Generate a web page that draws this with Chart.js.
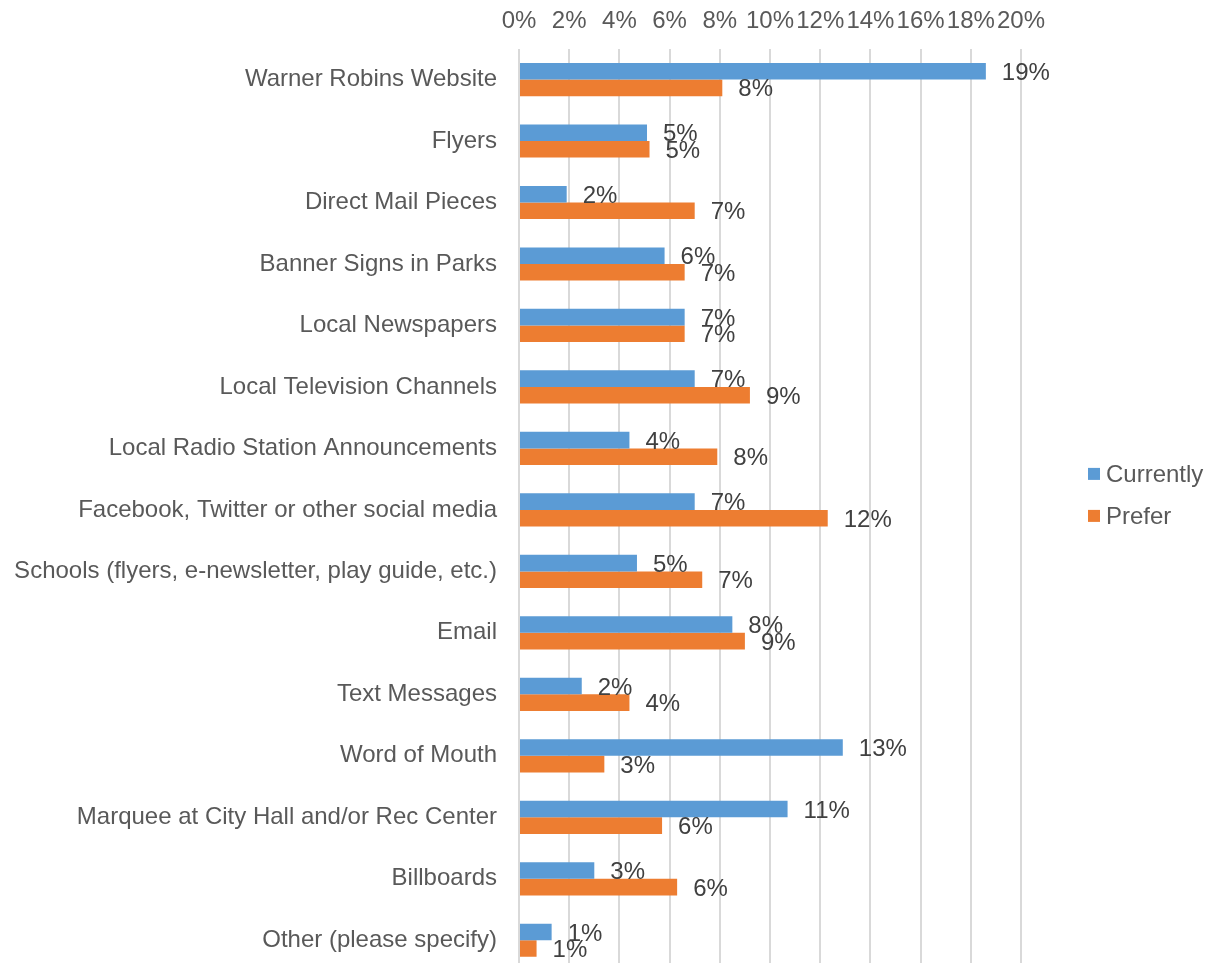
<!DOCTYPE html>
<html>
<head>
<meta charset="utf-8">
<script src="https://cdn.jsdelivr.net/npm/chart.js@4.4.1/dist/chart.umd.min.js"></script>
<style>
  html, body { margin: 0; padding: 0; background: #ffffff; overflow: hidden; }
  #wrap { position: relative; width: 1206px; height: 988px; margin-top: -13px; }
</style>
</head>
<body>
<div id="wrap"><canvas id="c" width="1206" height="988"></canvas></div>
<script>
const categories = [
  "Warner Robins Website",
  "Flyers",
  "Direct Mail Pieces",
  "Banner Signs in Parks",
  "Local Newspapers",
  "Local Television Channels",
  "Local Radio Station Announcements",
  "Facebook, Twitter or other social media",
  "Schools (flyers, e-newsletter, play guide, etc.)",
  "Email",
  "Text Messages",
  "Word of Mouth",
  "Marquee at City Hall and/or Rec Center",
  "Billboards",
  "Other (please specify)"
];
const currently = [18.6, 5.1, 1.9, 5.8, 6.6, 7.0, 4.4, 7.0, 4.7, 8.5, 2.5, 12.9, 10.7, 3.0, 1.3];
const prefer    = [8.1, 5.2, 7.0, 6.6, 6.6, 9.2, 7.9, 12.3, 7.3, 9.0, 4.4, 3.4, 5.7, 6.3, 0.7];
const currentlyLabels = ["19%","5%","2%","6%","7%","7%","4%","7%","5%","8%","2%","13%","11%","3%","1%"];
const preferLabels    = ["8%","5%","7%","7%","7%","9%","8%","12%","7%","9%","4%","3%","6%","6%","1%"];
const xTicks = [0, 2, 4, 6, 8, 10, 12, 14, 16, 18, 20];
const seriesNames = ["Currently", "Prefer"];
const seriesColors = ["#5B9BD5", "#ED7D31"];

const FONT = '"Liberation Sans", Arial, Helvetica, sans-serif';

const labelPlugin = {
  id: 'valueLabels',
  afterDatasetsDraw(chart) {
    const ctx = chart.ctx;
    const sets = [currentlyLabels, preferLabels];
    ctx.save();
    ctx.font = '24px ' + FONT;
    ctx.fillStyle = '#404040';
    ctx.textAlign = 'left';
    ctx.textBaseline = 'middle';
    chart.data.datasets.forEach((ds, di) => {
      const meta = chart.getDatasetMeta(di);
      meta.data.forEach((bar, i) => {
        ctx.fillText(sets[di][i], bar.x + 16, bar.y + 2);
      });
    });
    ctx.restore();
  }
};

const legendPlugin = {
  id: 'sideLegend',
  afterDraw(chart) {
    const ctx = chart.ctx;
    const area = chart.chartArea;
    const cy = (area.top + area.bottom) / 2 - 15;
    const gap = 42;
    ctx.save();
    ctx.font = '24px ' + FONT;
    ctx.textAlign = 'left';
    ctx.textBaseline = 'middle';
    chart.data.datasets.forEach((ds, i) => {
      const y = cy - gap / 2 + i * gap;
      const x = area.right + 67;
      ctx.fillStyle = ds.backgroundColor;
      ctx.fillRect(x, y - 6, 12, 12);
      ctx.fillStyle = '#595959';
      ctx.fillText(ds.label, x + 18, y + 1);
    });
    ctx.restore();
  }
};

new Chart(document.getElementById('c'), {
  type: 'bar',
  data: {
    labels: categories,
    datasets: [
      { label: seriesNames[0], data: currently, backgroundColor: seriesColors[0], borderWidth: 0,
        categoryPercentage: 0.54, barPercentage: 1.0 },
      { label: seriesNames[1], data: prefer, backgroundColor: seriesColors[1], borderWidth: 0,
        categoryPercentage: 0.54, barPercentage: 1.0 }
    ]
  },
  options: {
    indexAxis: 'y',
    responsive: false,
    animation: false,
    layout: { padding: { left: 12, top: 7, right: 185, bottom: 4 } },
    scales: {
      x: {
        position: 'top',
        min: 0, max: 20,
        afterBuildTicks(axis) { axis.ticks = xTicks.map(v => ({ value: v })); },
        ticks: {
          callback: v => v + '%',
          color: '#595959',
          font: { family: FONT, size: 24 },
          padding: 13,
          maxRotation: 0,
          minRotation: 0,
          autoSkip: false
        },
        grid: { color: '#d9d9d9', lineWidth: 2, drawTicks: false },
        border: { display: false }
      },
      y: {
        afterFit(axis) {
          axis.width = 507;
          axis.paddingTop = 0;
          axis.paddingBottom = 0;
        },
        ticks: {
          color: '#595959',
          font: { family: FONT, size: 24 },
          padding: 22,
          autoSkip: false
        },
        grid: { display: false, drawTicks: false },
        border: { display: false }
      }
    },
    plugins: {
      legend: { display: false },
      tooltip: { enabled: false }
    }
  },
  plugins: [labelPlugin, legendPlugin]
});
</script>
</body>
</html>
